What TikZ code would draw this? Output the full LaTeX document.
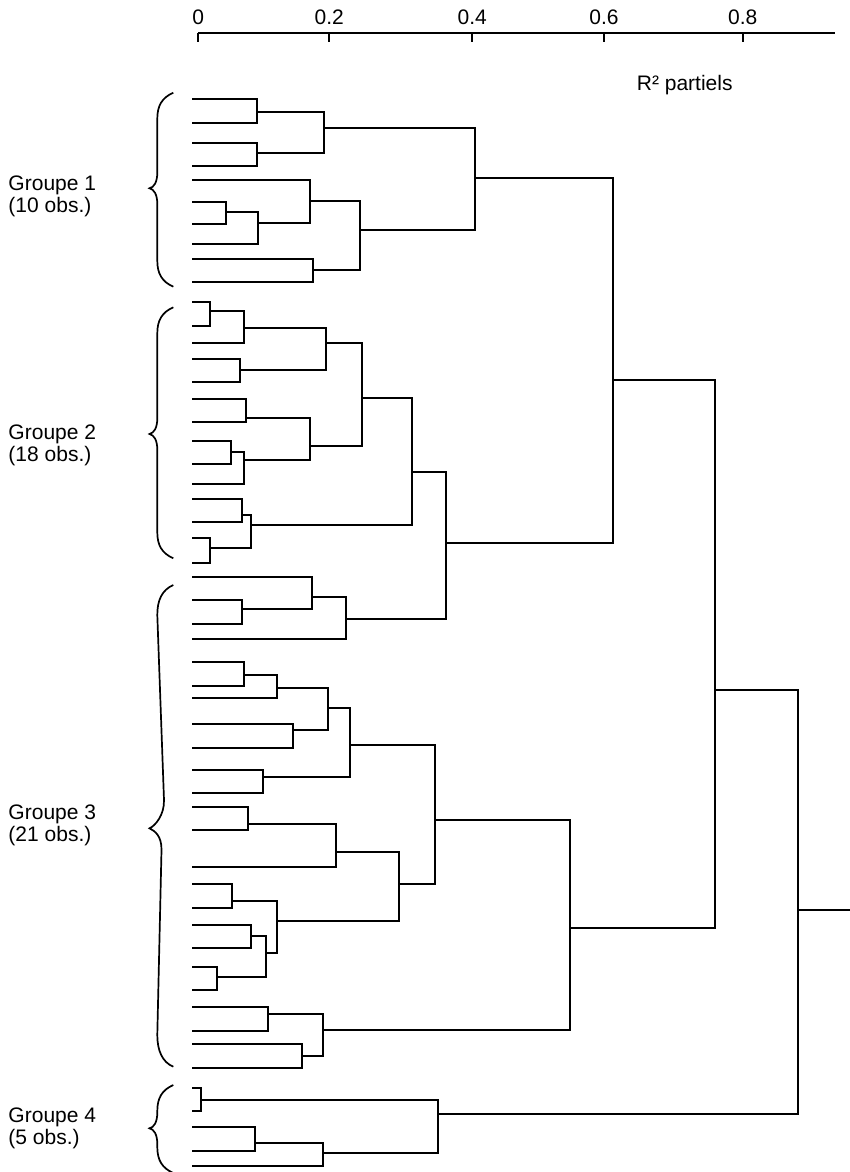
\documentclass[tikz,border=0pt]{standalone}
\usepackage{fontspec}
\setmainfont{Liberation Sans}
\newcommand\leaf[2]{\coordinate (#1) at (192,#2);}
\newcommand\mrg[5]{\coordinate (#1) at (#4,#5);
  \draw[tree] (#2) -| (#1) |- (#3);}
\newcommand\grpbrace[3]{%
  \draw[brc] (173.3,#1) .. controls (162,{#1+5}) and (157.3,{#1+13}) .. (157.3,{#1+26})
    -- (157.3,{#2-16}) .. controls (157.3,{#2-6}) and (154,{#2-1}) .. (149.5,#2)
    .. controls (154,{#2+1}) and (157.3,{#2+6}) .. (157.3,{#2+16})
    -- (157.3,{#3-26}) .. controls (157.3,{#3-13}) and (162,{#3-5}) .. (173.3,#3);}
\begin{document}
\begin{tikzpicture}[x=1pt,y=-1pt,
  tree/.style={line width=2.1pt, line join=miter, line cap=butt, black},
  brc/.style={line width=1.7pt, black},
  lbl/.style={font=\fontsize{21}{23}\selectfont, inner sep=0pt}]
\useasboundingbox (0,0) rectangle (850,1172);
% axis
\coordinate (ax0) at (198.3,33.3);
\coordinate (ax1) at (835,33.3);
\draw[tree] (ax0) -- (ax1);
\foreach \n/\x/\t in {0/198.3/0, 1/329.3/0.2, 2/472.3/0.4, 3/604/0.6, 4/742.7/0.8}{
  \coordinate (tk\n) at (\x,33.3);
  \coordinate (tb\n) at (\x,41.7);
  \draw[tree] (tk\n) -- (tb\n);
  \node[lbl, anchor=base] (tl\n) at (\x,25) {\t};
}
\node[lbl, anchor=base west] (rlab) at (636.7,90.7) {R² partiels};
% group labels
\node[lbl, anchor=base west] (g1a) at (8.3,190) {Groupe 1};
\node[lbl, anchor=base west] (g1b) at (8.3,212.7) {(10 obs.)};
\node[lbl, anchor=base west] (g2a) at (8.3,439) {Groupe 2};
\node[lbl, anchor=base west] (g2b) at (8.3,461.7) {(18 obs.)};
\node[lbl, anchor=base west] (g3a) at (8.3,819) {Groupe 3};
\node[lbl, anchor=base west] (g3b) at (8.3,841.7) {(21 obs.)};
\node[lbl, anchor=base west] (g4a) at (8.3,1122) {Groupe 4};
\node[lbl, anchor=base west] (g4b) at (8.3,1144.7) {(5 obs.)};
% braces
\grpbrace{92.7}{188.3}{286.7}
\grpbrace{307.3}{434}{558.3}
\draw[brc] (173.3,585) .. controls (162,590) and (157.3,600) .. (157.3,615)
  -- (164,800) .. controls (164.5,815) and (155,826) .. (149.5,828.3)
  .. controls (155,831) and (161.7,836) .. (161.5,850)
  -- (157.3,1035) .. controls (157.3,1050) and (162,1062) .. (173.3,1066.7);
\grpbrace{1085}{1128.3}{1173}
% leaves
\leaf{L1}{99}\leaf{L2}{122.7}\leaf{L3}{142.7}\leaf{L4}{166}\leaf{L5}{180}
\leaf{L6}{201.7}\leaf{L7}{224.3}\leaf{L8}{244.3}\leaf{L9}{259}\leaf{L10}{281.7}
\leaf{M1}{302.3}\leaf{M2}{326}\leaf{M3}{343.3}\leaf{M4}{359}\leaf{M5}{382.3}
\leaf{M6}{399}\leaf{M7}{422.3}\leaf{M8}{440.7}\leaf{M9}{464}\leaf{M10}{484}
\leaf{M11}{499}\leaf{M12}{521.7}\leaf{M13}{538.3}\leaf{M14}{562.7}
\leaf{N1}{576.7}\leaf{N2}{600}\leaf{N3}{624}\leaf{N4}{639}\leaf{N5}{662.3}
\leaf{N6}{686}\leaf{N7}{698.3}\leaf{N8}{724}\leaf{N9}{748.3}\leaf{N10}{770}
\leaf{N11}{793.3}\leaf{N12}{806.7}\leaf{N13}{830}\leaf{N14}{866.7}\leaf{N15}{884.3}
\leaf{N16}{907.7}\leaf{N17}{925}\leaf{N18}{948.3}\leaf{N19}{966.7}\leaf{N20}{990}
\leaf{N21}{1007.3}\leaf{N22}{1030.7}\leaf{N23}{1044.3}\leaf{N24}{1068.3}
\leaf{P1}{1087.7}\leaf{P2}{1111}\leaf{P3}{1126.7}\leaf{P4}{1151}\leaf{P5}{1166}
% group 1
\mrg{A1}{L1}{L2}{256.7}{111.7}
\mrg{A2}{L3}{L4}{256.7}{153.3}
\mrg{A3}{A1}{A2}{324}{128.3}
\mrg{A4}{L6}{L7}{226}{211.7}
\mrg{A5}{A4}{L8}{258.3}{222.7}
\mrg{A6}{L5}{A5}{310}{200.7}
\mrg{A7}{L9}{L10}{313.3}{270}
\mrg{A8}{A6}{A7}{360}{230}
\mrg{A9}{A3}{A8}{474.7}{178.3}
% group 2
\mrg{B1}{M1}{M2}{210}{310.7}
\mrg{B2}{B1}{M3}{244.3}{327.7}
\mrg{B3}{M4}{M5}{240}{370}
\mrg{B4}{B2}{B3}{325.7}{343.3}
\mrg{B5}{M6}{M7}{246}{418.3}
\mrg{B6}{M8}{M9}{231}{452.3}
\mrg{B7}{B6}{M10}{244.3}{460}
\mrg{B8}{B5}{B7}{310}{445.7}
\mrg{B9}{B4}{B8}{362.3}{398.3}
\mrg{B10}{M11}{M12}{241.7}{515}
\mrg{B11}{M13}{M14}{210}{548.3}
\mrg{B12}{B10}{B11}{251}{525}
\mrg{B13}{B9}{B12}{411.7}{471.7}
% group 3
\mrg{C1}{N2}{N3}{242.3}{609.3}
\mrg{C2}{N1}{C1}{311.7}{596.7}
\mrg{C3}{C2}{N4}{346}{619.3}
\mrg{D1}{B13}{C3}{445.7}{543.3}
\mrg{E1}{A9}{D1}{613.3}{380}
\mrg{C4}{N5}{N6}{244.3}{675}
\mrg{C5}{C4}{N7}{277}{687.7}
\mrg{C6}{N8}{N9}{293.3}{730}
\mrg{C7}{C5}{C6}{328.3}{707.7}
\mrg{C8}{N10}{N11}{262.7}{777}
\mrg{C9}{C7}{C8}{350}{745}
\mrg{C10}{N12}{N13}{247.7}{824}
\mrg{C11}{C10}{N14}{335.7}{851.7}
\mrg{C12}{N15}{N16}{231.7}{901}
\mrg{C13}{N17}{N18}{251}{935.7}
\mrg{C14}{N19}{N20}{217.3}{977.3}
\mrg{C15}{C13}{C14}{266}{952.7}
\mrg{C16}{C12}{C15}{276.7}{921}
\mrg{C17}{C11}{C16}{399}{884}
\mrg{C18}{C9}{C17}{435}{820}
\mrg{C19}{N21}{N22}{267.7}{1014}
\mrg{C20}{N23}{N24}{301.7}{1055.7}
\mrg{C21}{C19}{C20}{322.7}{1030}
\mrg{C22}{C18}{C21}{570}{928}
\mrg{F1}{E1}{C22}{715}{690}
% group 4
\mrg{G1}{P1}{P2}{201}{1100}
\mrg{G2}{P3}{P4}{255}{1143.3}
\mrg{G3}{G2}{P5}{322.7}{1152.7}
\mrg{G4}{G1}{G3}{437.7}{1114}
\mrg{R}{F1}{G4}{798.3}{910}
\coordinate (Rend) at (850,910);
\draw[tree] (R) -- (Rend);
\end{tikzpicture}
\end{document}
